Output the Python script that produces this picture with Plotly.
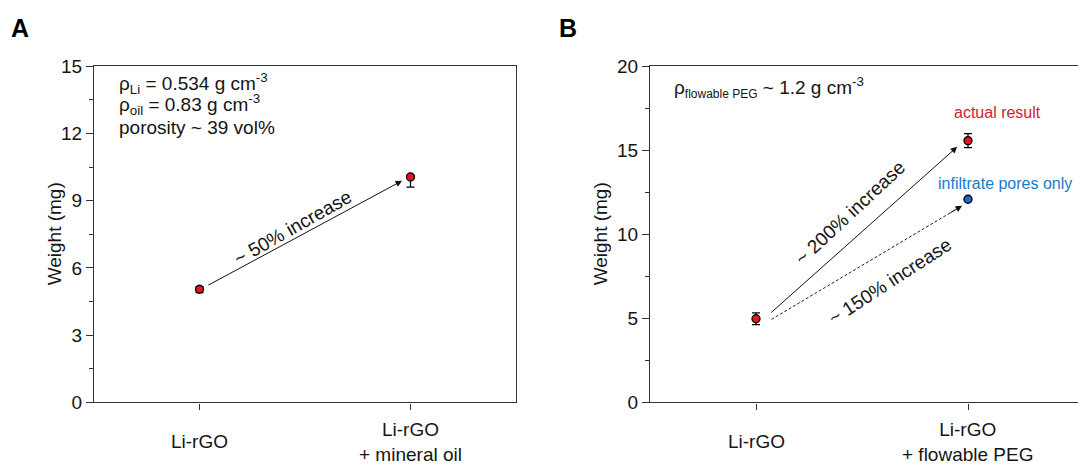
import plotly.graph_objects as go

# ---------------- data ----------------
categories = ["Li-rGO", "Li-rGO<br>+ mineral oil"]
weights_a = [5.05, 10.06]
err_a_plus = [0.12, 0.08]
err_a_minus = [0.15, 0.45]

categories_b = ["Li-rGO", "Li-rGO<br>+ flowable PEG"]
weights_b_actual = [4.98, 15.58]
err_b = [0.35, 0.42]
weights_b_pores = [12.09]

notes_a = ["ρ<sub>Li</sub> = 0.534 g cm<sup>-3</sup>",
           "ρ<sub>oil</sub> = 0.83 g cm<sup>-3</sup>",
           "porosity ~ 39 vol%"]

FONT = "Liberation Sans, Arial, sans-serif"
W, H = 1078, 464
RED = "#e8141e"
BLUE = "#1a6fc4"
AXC = "#333333"
TXT = "#151515"


def px_x(p):
    return p / W


def px_y(p):
    return 1 - p / H


fig = go.Figure()

# Panel A
fig.add_trace(go.Scatter(
    x=[1, 2], y=weights_a, mode="markers",
    marker=dict(color=RED, size=8, line=dict(color="black", width=1.3)),
    error_y=dict(type="data", symmetric=False, array=err_a_plus, arrayminus=err_a_minus,
                 color="black", thickness=1.3, width=4),
    xaxis="x", yaxis="y", showlegend=False))

# Panel B
fig.add_trace(go.Scatter(
    x=[1, 2], y=weights_b_actual, mode="markers",
    marker=dict(color=RED, size=8, line=dict(color="black", width=1.3)),
    error_y=dict(type="data", array=err_b, color="black", thickness=1.3, width=4),
    xaxis="x2", yaxis="y2", showlegend=False))
fig.add_trace(go.Scatter(
    x=[2], y=weights_b_pores, mode="markers",
    marker=dict(color=BLUE, size=8, line=dict(color="black", width=1.3)),
    xaxis="x2", yaxis="y2", showlegend=False))

axis_common = dict(
    showline=True, linecolor=AXC, linewidth=1.3, ticks="outside",
    tickcolor=AXC, tickfont=dict(family=FONT, size=19, color=TXT),
    showgrid=False, zeroline=False,
)

ybottom = px_y(411)
ytop = px_y(59)

fig.update_layout(
    width=W, height=H,
    margin=dict(l=0, r=0, t=0, b=0),
    plot_bgcolor="white", paper_bgcolor="white",
    font=dict(family=FONT, color=TXT),
    xaxis=dict(**axis_common, domain=[px_x(94), px_x(516)], range=[0.5, 2.5],
               tickvals=[1, 2], showticklabels=False, mirror=True, ticklen=6,
               anchor="y"),
    yaxis=dict(**axis_common, domain=[ybottom, ytop], range=[0, 15],
               tickvals=[0, 3, 6, 9, 12, 15], mirror=True, ticklen=7,
               minor=dict(ticks="outside", ticklen=4, tickcolor=AXC, dtick=1.5, tick0=0),
               anchor="x"),
    xaxis2=dict(**axis_common, domain=[px_x(650), 1.0], range=[0.5, 1 + (1078 - 756) / 212],
                tickvals=[1, 2], showticklabels=False, mirror=True, ticklen=6,
                anchor="y2"),
    yaxis2=dict(**axis_common, domain=[ybottom, ytop], range=[0, 20],
                tickvals=[0, 5, 10, 15, 20], mirror=False, ticklen=7,
                minor=dict(ticks="outside", ticklen=4, tickcolor=AXC, dtick=2.5, tick0=0),
                anchor="x2"),
)

ann = []
# axis titles
for xx in (54, 600):
    ann.append(dict(text="Weight (mg)", x=px_x(xx), y=px_y(235), xref="paper", yref="paper",
                    textangle=-90, xanchor="center", yanchor="middle", showarrow=False,
                    font=dict(family=FONT, size=19, color=TXT)))

# category labels (centred vertically like the reference)
for i, lab in enumerate(categories):
    ann.append(dict(text=lab, x=i + 1, y=px_y(452), xref="x", yref="paper",
                    yanchor="middle", showarrow=False, font=dict(family=FONT, size=19, color=TXT)))
for i, lab in enumerate(categories_b):
    ann.append(dict(text=lab, x=i + 1, y=px_y(452), xref="x2", yref="paper",
                    yanchor="middle", showarrow=False, font=dict(family=FONT, size=19, color=TXT)))

# panel letters
ann.append(dict(text="<b>A</b>", x=px_x(9), y=px_y(19), xref="paper", yref="paper",
                xanchor="left", yanchor="middle", showarrow=False,
                font=dict(family=FONT, size=25, color="black")))
ann.append(dict(text="<b>B</b>", x=px_x(557), y=px_y(19), xref="paper", yref="paper",
                xanchor="left", yanchor="middle", showarrow=False,
                font=dict(family=FONT, size=25, color="black")))

# panel A notes
for txt, yy in zip(notes_a, [77, 99, 123]):
    ann.append(dict(text=txt, x=px_x(117), y=px_y(yy), xref="paper", yref="paper",
                    xanchor="left", yanchor="middle", align="left", showarrow=False,
                    font=dict(family=FONT, size=19, color=TXT)))
# arrow A
ann.append(dict(x=1.96, y=9.89, ax=1.035, ay=5.2, xref="x", yref="y", axref="x", ayref="y",
                showarrow=True, arrowhead=2, arrowsize=1.3, arrowwidth=1, arrowcolor="#111", text=""))
ann.append(dict(text="~ 50% increase", x=1.443, y=7.8, xref="x", yref="y", showarrow=False,
                textangle=-29.5, font=dict(family=FONT, size=19, color=TXT)))

# panel B notes
ann.append(dict(text="ρ<sub><span style='font-size:12px'>flowable PEG</span></sub> ~ 1.2 g cm<sup>-3</sup>",
                x=px_x(672), y=px_y(81), xref="paper", yref="paper",
                xanchor="left", yanchor="middle", showarrow=False,
                font=dict(family=FONT, size=19, color=TXT)))
ann.append(dict(text="actual result", x=px_x(997), y=px_y(107), xref="paper", yref="paper",
                xanchor="center", yanchor="middle", showarrow=False,
                font=dict(family=FONT, size=16, color="#d42035")))
ann.append(dict(text="infiltrate pores only", x=px_x(936), y=px_y(182), xref="paper", yref="paper",
                xanchor="left", yanchor="middle", showarrow=False,
                font=dict(family=FONT, size=16, color="#1a7ac8")))
# solid arrow B
ann.append(dict(x=1.949, y=15.21, ax=1.065, ay=5.27, xref="x2", yref="y2", axref="x2", ayref="y2",
                showarrow=True, arrowhead=2, arrowsize=1.3, arrowwidth=1, arrowcolor="#111", text=""))
# dashed arrow B: dashed shaft as a shape, only the head as an annotation
x0d, y0d, x1d, y1d = 1.073, 4.94, 1.972, 11.7
fr = 0.93
ann.append(dict(x=x1d, y=y1d, ax=x0d + fr * (x1d - x0d), ay=y0d + fr * (y1d - y0d),
                xref="x2", yref="y2", axref="x2", ayref="y2",
                showarrow=True, arrowhead=2, arrowsize=1.3, arrowwidth=1, arrowcolor="#111", text=""))
fig.add_shape(type="line", x0=x0d, y0=y0d, x1=x0d + 0.97 * (x1d - x0d), y1=y0d + 0.97 * (y1d - y0d),
              xref="x2", yref="y2", line=dict(color="#222", width=1, dash="3px,2px"))

ann.append(dict(text="~ 200% increase", x=1.445, y=11.3, xref="x2", yref="y2", showarrow=False,
                textangle=-43, font=dict(family=FONT, size=19, color=TXT)))
ann.append(dict(text="~ 150% increase", x=1.63, y=7.2, xref="x2", yref="y2", showarrow=False,
                textangle=-33, font=dict(family=FONT, size=19, color=TXT)))

fig.update_layout(annotations=ann)

fig.write_html("out.html")
